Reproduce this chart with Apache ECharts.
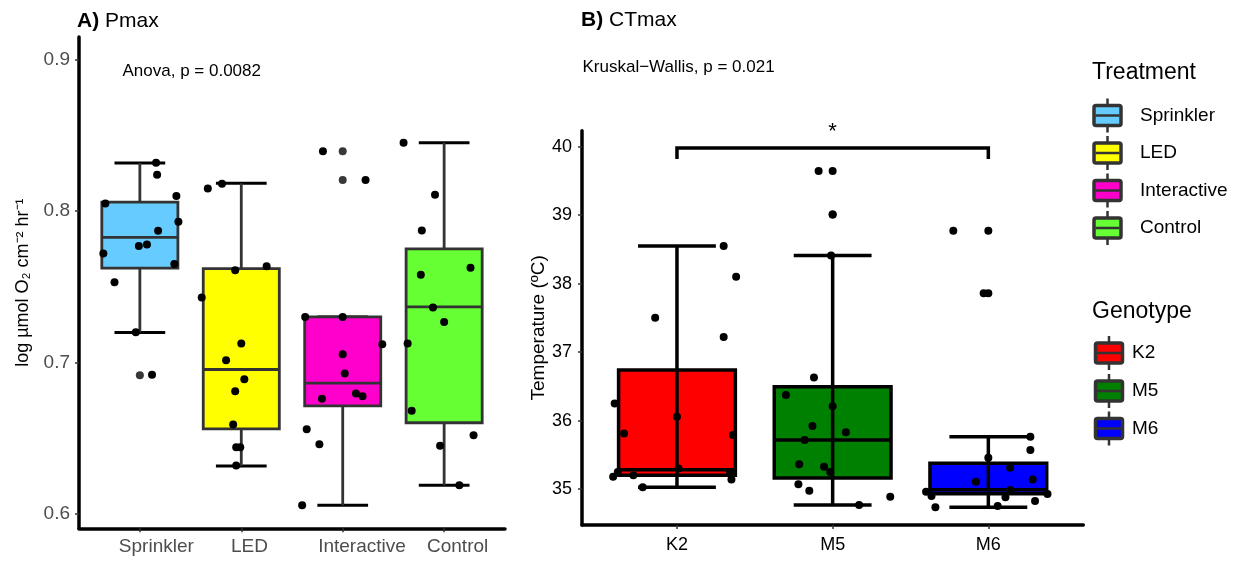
<!DOCTYPE html>
<html>
<head>
<meta charset="utf-8">
<script src="https://cdn.jsdelivr.net/npm/echarts@6/dist/echarts.min.js"></script>
<style>
  html, body { margin: 0; padding: 0; background: #fff; }
  #chart { width: 1238px; height: 563px; }
</style>
</head>
<body>
<div id="chart"></div>
<script>
// ---------- Panel A: Pmax by treatment ----------
const treatments = ['Sprinkler', 'LED', 'Interactive', 'Control'];
const pmaxTicks = [0.6, 0.7, 0.8, 0.9];
// box statistics: [lower whisker, Q1, median, Q3, upper whisker]
const pmaxStats = [
  [0.7198, 0.7624, 0.7826, 0.8059, 0.8318],
  [0.6316, 0.6562, 0.6954, 0.7620, 0.8184],
  [0.6057, 0.6714, 0.6864, 0.7301, 0.7301],
  [0.6189, 0.6602, 0.7367, 0.7751, 0.8452]
];
const pmaxOutliers = [[0.6916], [], [0.8395, 0.8206], []];

// individual measurements and their horizontal jitter (in category units)
const sprinklerPmax   = [0.832, 0.824, 0.810, 0.805, 0.793, 0.787, 0.777, 0.778, 0.772, 0.765, 0.753, 0.720, 0.692];
const sprinklerJitter = [0.16, 0.17, 0.36, -0.34, 0.38, 0.18, -0.01, 0.07, -0.36, 0.34, -0.25, -0.04, 0.12];
const ledPmax   = [0.818, 0.815, 0.7635, 0.761, 0.743, 0.7125, 0.7015, 0.689, 0.681, 0.659, 0.644, 0.644, 0.632];
const ledJitter = [-0.19, -0.33, 0.25, -0.06, -0.39, 0.0, -0.15, 0.03, -0.06, -0.08, -0.05, -0.01, -0.05];
const interactivePmax   = [0.8395, 0.8206, 0.730, 0.730, 0.712, 0.7055, 0.6927, 0.6796, 0.6778, 0.676, 0.656, 0.646, 0.6057];
const interactiveJitter = [-0.195, 0.225, -0.37, 0.0, 0.39, 0.0, 0.02, 0.13, 0.195, -0.205, -0.355, -0.23, -0.40];
const controlPmax   = [0.8452, 0.8108, 0.7872, 0.7626, 0.758, 0.7363, 0.7268, 0.7125, 0.6681, 0.6519, 0.645, 0.6189];
const controlJitter = [-0.40, -0.09, -0.22, 0.26, -0.23, -0.11, 0.0, -0.36, -0.32, 0.29, -0.04, 0.15];

// ---------- Panel B: CTmax by genotype ----------
const genotypes = ['K2', 'M5', 'M6'];
const ctmaxTicks = [35, 36, 37, 38, 39, 40];
const ctmaxStats = [
  [35.025, 35.20, 35.28, 36.74, 38.55],
  [34.766, 35.16, 35.716, 36.494, 38.41],
  [34.733, 34.93, 34.99, 35.375, 35.764]
];
const ctmaxOutliers = [[], [39.645, 39.01], [38.773, 37.86]];

const k2Ctmax   = [38.55, 38.10, 37.50, 37.22, 36.25, 36.056, 35.81, 35.79, 35.30, 35.25, 35.25, 35.20, 35.18, 35.14, 35.025];
const k2Jitter  = [0.30, 0.38, -0.14, 0.30, -0.40, 0.0, -0.34, 0.36, 0.01, -0.38, 0.34, -0.28, -0.41, 0.35, -0.22];
const m5Ctmax   = [39.645, 39.01, 38.41, 36.63, 36.373, 36.21, 35.92, 35.83, 35.716, 35.36, 35.326, 35.25, 35.07, 34.975, 34.888, 34.766];
const m5Jitter  = [-0.09, 0.0, -0.01, -0.12, -0.30, 0.0, -0.13, 0.085, -0.18, -0.215, -0.055, -0.016, -0.22, -0.15, 0.37, 0.17];
const m6Ctmax   = [38.773, 37.86, 35.764, 35.57, 35.457, 35.31, 35.14, 35.107, 34.985, 34.96, 34.927, 34.898, 34.88, 34.825, 34.75, 34.733];
const m6Jitter  = [-0.225, -0.03, 0.27, 0.27, 0.0, 0.14, 0.285, -0.08, 0.14, -0.40, 0.38, -0.365, 0.11, 0.30, 0.06, -0.34];

// pairwise comparison bracket: [from group, to group, bar level, tick end]
const ctmaxBracket = [[1, 3, 39.98, 39.82]];

// ---------- styling ----------
const treatmentColors = ['#66CCFF', '#FFFF00', '#FF00CC', '#66FF33'];
const genotypeColors = ['#FF0000', '#008000', '#0000FF'];
const FONT = '"Liberation Sans", Arial, Helvetica, sans-serif';
const BOX_WIDTH = 0.75;
const CAP_WIDTH = 0.5;

function toPoints(groups) {
  const out = [];
  groups.forEach(([vals, jit], g) => {
    vals.forEach((v, i) => out.push([g + 1 + jit[i], v]));
  });
  return out;
}
function outlierPoints(list) {
  const out = [];
  list.forEach((vals, g) => vals.forEach(v => out.push([g + 1, v])));
  return out;
}

// box + whisker drawing; `front` puts the error bar over the box
function boxRenderer(colors, opts) {
  return function (params, api) {
    const x = api.value(0);
    const lo = api.coord([x, api.value(1)]);
    const q1 = api.coord([x, api.value(2)]);
    const md = api.coord([x, api.value(3)]);
    const q3 = api.coord([x, api.value(4)]);
    const hi = api.coord([x, api.value(5)]);
    const cx = md[0];
    const bw = api.size([BOX_WIDTH, 0])[0] / 2;
    const cw = api.size([CAP_WIDTH, 0])[0] / 2;
    const fill = colors[params.dataIndex];
    const caps = [
      { type: 'line', shape: { x1: cx - cw, y1: hi[1], x2: cx + cw, y2: hi[1] }, style: { stroke: opts.capColor, lineWidth: opts.capWidth } },
      { type: 'line', shape: { x1: cx - cw, y1: lo[1], x2: cx + cw, y2: lo[1] }, style: { stroke: opts.capColor, lineWidth: opts.capWidth } }
    ];
    const stem = { type: 'line', shape: { x1: cx, y1: hi[1], x2: cx, y2: lo[1] }, style: { stroke: opts.stemColor, lineWidth: opts.stemWidth } };
    const box = { type: 'rect', shape: { x: cx - bw, y: q3[1], width: 2 * bw, height: q1[1] - q3[1] }, style: { fill: fill, stroke: opts.boxStroke, lineWidth: opts.boxWidth } };
    const median = { type: 'line', shape: { x1: cx - bw, y1: md[1], x2: cx + bw, y2: md[1] }, style: { stroke: opts.boxStroke, lineWidth: opts.boxWidth } };
    const children = opts.front ? [box, median, stem].concat(caps) : caps.concat([stem, box, median]);
    return { type: 'group', children: children };
  };
}

function bracketRenderer(params, api) {
  const a = api.coord([api.value(0), api.value(3)]);
  const b = api.coord([api.value(0), api.value(2)]);
  const c = api.coord([api.value(1), api.value(2)]);
  const d = api.coord([api.value(1), api.value(3)]);
  return {
    type: 'group',
    children: [
      { type: 'polyline', shape: { points: [a, b, c, d] }, style: { stroke: '#000', lineWidth: 3.5, fill: null } },
      { type: 'text', x: (b[0] + c[0]) / 2, y: b[1] - 5,
        style: { text: '*', font: '22px ' + FONT, fill: '#000', align: 'center', verticalAlign: 'bottom' } }
    ]
  };
}

// x labels of panel A sit slightly right of their ticks
const measureCtx = document.createElement('canvas').getContext('2d');
measureCtx.font = '19px ' + FONT;
const treatmentRich = {};
treatments.forEach((t, i) => {
  const w = measureCtx.measureText(t).width;
  treatmentRich['t' + i] = { fontSize: 19, color: '#4D4D4D', fontFamily: FONT, padding: [0, 0, 0, 0.44 * w] };
});

// legend keys drawn as miniature boxplots
function legendKey(cx, cy, color) {
  return {
    type: 'group',
    children: [
      { type: 'line', shape: { x1: cx, y1: cy - 17, x2: cx, y2: cy + 17 }, style: { stroke: '#333', lineWidth: 2.5 } },
      { type: 'rect', shape: { x: cx - 13.5, y: cy - 10, width: 27, height: 20, r: 2 }, style: { fill: color, stroke: '#333', lineWidth: 3.5 } },
      { type: 'line', shape: { x1: cx - 12, y1: cy, x2: cx + 12, y2: cy }, style: { stroke: '#333', lineWidth: 2.5 } }
    ]
  };
}
function legendText(x, y, text, size) {
  return { type: 'text', x: x, y: y, style: { text: text, font: size + 'px ' + FONT, fill: '#000', verticalAlign: 'middle' } };
}
const legendElements = [legendText(1092, 73, 'Treatment', 23), legendText(1092, 312, 'Genotype', 23)];
const treatmentKeyY = [115.5, 153, 190.5, 228];
treatments.forEach((t, i) => {
  legendElements.push(legendKey(1107.5, treatmentKeyY[i], treatmentColors[i]));
  legendElements.push(legendText(1140, treatmentKeyY[i], t, 19));
});
const genotypeKeyY = [353, 391, 428.5];
genotypes.forEach((g, i) => {
  legendElements.push(legendKey(1109, genotypeKeyY[i], genotypeColors[i]));
  legendElements.push(legendText(1132, genotypeKeyY[i], g, 19));
});

const chart = echarts.init(document.getElementById('chart'), null, { renderer: 'canvas' });
chart.setOption({
  animation: false,
  backgroundColor: '#fff',
  textStyle: { fontFamily: FONT },
  title: [
    { text: '{b|A)} Pmax', left: 77, top: 9, padding: 0,
      textStyle: { fontSize: 21, fontWeight: 'normal', color: '#000', lineHeight: 24, fontFamily: FONT,
        rich: { b: { fontSize: 21, fontWeight: 'bold', color: '#000', lineHeight: 24, fontFamily: FONT } } } },
    { text: '{b|B)} CTmax', left: 581, top: 8, padding: 0,
      textStyle: { fontSize: 21, fontWeight: 'normal', color: '#000', lineHeight: 24, fontFamily: FONT,
        rich: { b: { fontSize: 21, fontWeight: 'bold', color: '#000', lineHeight: 24, fontFamily: FONT } } } },
    { text: 'Anova, p = 0.0082', left: 122.5, top: 61, padding: 0,
      textStyle: { fontSize: 17, fontWeight: 'normal', color: '#000', lineHeight: 20, fontFamily: FONT } },
    { text: 'Kruskal\u2212Wallis, p = 0.021', left: 582.5, top: 57, padding: 0,
      textStyle: { fontSize: 17, fontWeight: 'normal', color: '#000', lineHeight: 20, fontFamily: FONT } }
  ],
  grid: [
    { left: 79, top: 37, width: 426, height: 491.3, outerBoundsMode: 'none', containLabel: false },
    { left: 582, top: 130.7, width: 501.3, height: 394.3, outerBoundsMode: 'none', containLabel: false }
  ],
  xAxis: [
    {
      type: 'value', gridIndex: 0, min: 0.4, max: 4.6,
      splitLine: { show: false },
      axisLine: { show: true, onZero: false, lineStyle: { color: '#000', width: 3.5 } },
      axisTick: { show: true, customValues: [1, 2, 3, 4], length: 4, lineStyle: { color: '#333', width: 1.5 } },
      axisLabel: {
        customValues: [1, 2, 3, 4], margin: 9,
        formatter: v => { const i = Math.round(v) - 1; return '{t' + i + '|' + treatments[i] + '}'; },
        rich: treatmentRich
      }
    },
    {
      type: 'value', gridIndex: 1, min: 0.39, max: 3.61,
      splitLine: { show: false },
      axisLine: { show: true, onZero: false, lineStyle: { color: '#000', width: 3.5 } },
      axisTick: { show: true, customValues: [1, 2, 3], length: 4, lineStyle: { color: '#333', width: 1.5 } },
      axisLabel: {
        customValues: [1, 2, 3], margin: 11, fontSize: 18, color: '#000', fontFamily: FONT,
        formatter: v => genotypes[Math.round(v) - 1]
      }
    }
  ],
  yAxis: [
    {
      type: 'value', gridIndex: 0, min: 0.5905, max: 0.915,
      name: 'log \u00B5mol O\u2082 cm\u207B\u00B2 hr\u207B\u00B9', nameLocation: 'middle', nameGap: 47, nameRotate: 90,
      nameTextStyle: { fontSize: 18, color: '#000', fontFamily: FONT },
      splitLine: { show: false },
      axisLine: { show: true, onZero: false, lineStyle: { color: '#000', width: 3.5 } },
      axisTick: { show: true, customValues: pmaxTicks, length: 4, lineStyle: { color: '#333', width: 1.5 } },
      axisLabel: { customValues: pmaxTicks, margin: 9, fontSize: 19, color: '#4D4D4D', fontFamily: FONT,
        formatter: v => v.toFixed(1) }
    },
    {
      type: 'value', gridIndex: 1, min: 34.474, max: 40.234,
      name: 'Temperature (\u00BAC)', nameLocation: 'middle', nameGap: 34, nameRotate: 90,
      nameTextStyle: { fontSize: 19, color: '#000', fontFamily: FONT },
      splitLine: { show: false },
      axisLine: { show: true, onZero: false, lineStyle: { color: '#000', width: 3.5 } },
      axisTick: { show: true, customValues: ctmaxTicks, length: 4, lineStyle: { color: '#333', width: 1.5 } },
      axisLabel: { customValues: ctmaxTicks, margin: 10, fontSize: 18, color: '#000', fontFamily: FONT,
        formatter: v => String(Math.round(v)) }
    }
  ],
  series: [
    {
      type: 'custom', xAxisIndex: 0, yAxisIndex: 0, clip: false, silent: true, z: 2,
      renderItem: boxRenderer(treatmentColors, { front: false, capColor: '#000', capWidth: 3, stemColor: '#333', stemWidth: 2.8, boxStroke: '#333', boxWidth: 2.8 }),
      data: pmaxStats.map((s, i) => [i + 1].concat(s))
    },
    {
      type: 'scatter', xAxisIndex: 0, yAxisIndex: 0, silent: true, z: 3,
      symbol: 'circle', symbolSize: 8, itemStyle: { color: '#383838', opacity: 1 },
      data: outlierPoints(pmaxOutliers)
    },
    {
      type: 'scatter', xAxisIndex: 0, yAxisIndex: 0, silent: true, z: 4,
      symbol: 'circle', symbolSize: 8, itemStyle: { color: '#000', opacity: 1 },
      data: toPoints([[sprinklerPmax, sprinklerJitter], [ledPmax, ledJitter], [interactivePmax, interactiveJitter], [controlPmax, controlJitter]])
    },
    {
      type: 'custom', xAxisIndex: 1, yAxisIndex: 1, clip: false, silent: true, z: 2,
      renderItem: boxRenderer(genotypeColors, { front: true, capColor: '#000', capWidth: 3.5, stemColor: '#000', stemWidth: 3.5, boxStroke: '#000', boxWidth: 3.5 }),
      data: ctmaxStats.map((s, i) => [i + 1].concat(s))
    },
    {
      type: 'scatter', xAxisIndex: 1, yAxisIndex: 1, silent: true, z: 3,
      symbol: 'circle', symbolSize: 8, itemStyle: { color: '#000', opacity: 1 },
      data: outlierPoints(ctmaxOutliers)
    },
    {
      type: 'scatter', xAxisIndex: 1, yAxisIndex: 1, silent: true, z: 4,
      symbol: 'circle', symbolSize: 8, itemStyle: { color: '#000', opacity: 1 },
      data: toPoints([[k2Ctmax, k2Jitter], [m5Ctmax, m5Jitter], [m6Ctmax, m6Jitter]])
    },
    {
      type: 'custom', xAxisIndex: 1, yAxisIndex: 1, clip: false, silent: true, z: 5,
      renderItem: bracketRenderer,
      data: ctmaxBracket
    }
  ],
  graphic: legendElements
});
</script>
</body>
</html>
